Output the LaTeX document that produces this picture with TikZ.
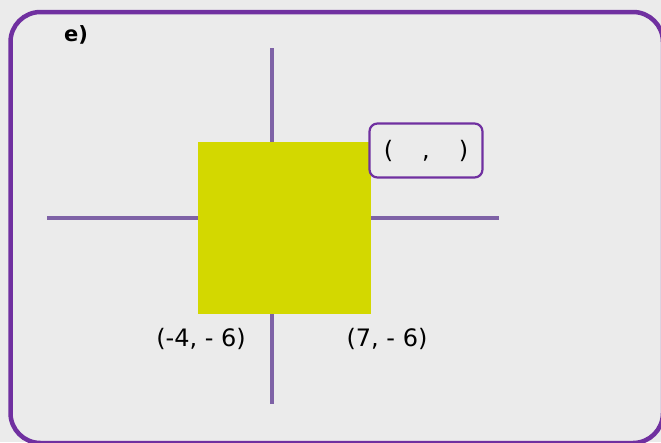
\documentclass[tikz,border=0pt]{standalone}
\usepackage{fontspec}
\setmainfont{DejaVu Sans}
\usepackage{xcolor}
\usetikzlibrary{positioning}

\definecolor{framepurple}{HTML}{7030A0}
\definecolor{axispurple}{HTML}{7E62A6}
\definecolor{boardgray}{HTML}{EBEBEB}
\definecolor{squareyellow}{HTML}{D3D800}

\begin{document}
\begin{tikzpicture}[
    x=1pt, y=-1pt,
    axis/.style={
        draw=axispurple,
        line width=4pt
    },
    square/.style={
        rectangle,
        fill=squareyellow,
        minimum width=173pt,
        minimum height=172pt,
        inner sep=0pt
    },
    answer/.style={
        rectangle,
        draw=framepurple,
        fill=boardgray,
        line width=2.2pt,
        rounded corners=8pt,
        minimum width=113pt,
        minimum height=54pt,
        font=\fontsize{24}{28}\selectfont
    },
    coord/.style={
        font=\fontsize{24}{28}\selectfont,
        inner sep=0pt
    }
]

% board
\fill[boardgray] (0,0) rectangle (661,442);
\useasboundingbox (0,0) rectangle (661,442);
\draw[draw=framepurple, line width=4.5pt, rounded corners=30pt]
    (10.5,12) rectangle (663,443);

\node[coord, font=\fontsize{21}{25}\selectfont\bfseries] (part) at (76,35) {e)};

% axes
\coordinate (ytop) at (272,48);
\coordinate (ybot) at (272,404);
\coordinate (xleft) at (47,218);
\coordinate (xright) at (499,218);
\draw[axis] (ytop) -- (ybot);
\draw[axis] (xleft) -- (xright);

% shape and corners
\node[square] (sq) at (284.5,228) {};
\node[answer] (corner) at (426,150.5) {(\hspace{29pt},\hspace{29pt})};
\node[coord] (bl) at (201,339) {(-4, - 6)};
\node[coord] (br) at (387,339) {(7, - 6)};

\end{tikzpicture}
\end{document}
